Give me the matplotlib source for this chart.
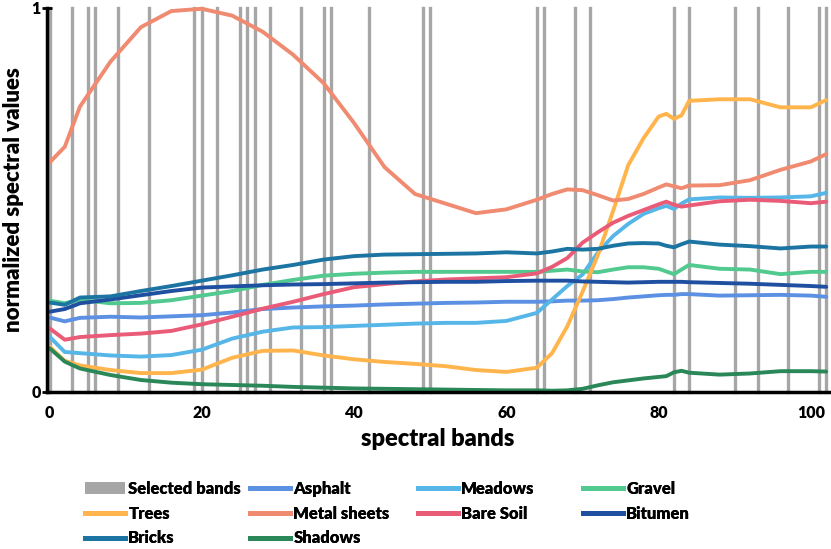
import numpy as np
import matplotlib.pyplot as plt
from matplotlib.patches import Patch
from matplotlib.lines import Line2D

plt.rcParams['font.family'] = ['Lato', 'DejaVu Sans']
plt.rcParams['font.weight'] = 'heavy'

# 1. Data
bands = [0, 2, 4, 8, 12, 16, 20, 24, 28, 32, 36, 40, 44, 48, 52, 56, 60, 64, 66, 68,
         70, 72, 74, 76, 78, 80, 81, 82, 83, 84, 88, 92, 96, 100, 102]

selected_bands = [0, 3, 5, 6, 9, 13, 19, 20, 22, 25, 26, 27, 29, 33, 36, 37, 42, 49, 50,
                  64, 65, 69, 71, 82, 84, 90, 93, 97, 101, 102]

asphalt = [0.193, 0.183, 0.192, 0.195, 0.193, 0.196, 0.199, 0.206, 0.215, 0.219, 0.222, 0.224,
           0.227, 0.229, 0.231, 0.232, 0.234, 0.234, 0.235, 0.237, 0.237, 0.238, 0.241, 0.245,
           0.248, 0.251, 0.252, 0.252, 0.254, 0.254, 0.250, 0.251, 0.252, 0.250, 0.247]
meadows = [0.143, 0.103, 0.100, 0.094, 0.091, 0.095, 0.109, 0.138, 0.156, 0.167, 0.168, 0.171,
           0.174, 0.177, 0.179, 0.179, 0.184, 0.205, 0.240, 0.275, 0.305, 0.362, 0.405, 0.437,
           0.463, 0.478, 0.484, 0.476, 0.490, 0.501, 0.506, 0.505, 0.506, 0.509, 0.518]
gravel = [0.237, 0.230, 0.239, 0.230, 0.231, 0.238, 0.250, 0.262, 0.278, 0.291, 0.302, 0.307,
          0.310, 0.312, 0.312, 0.312, 0.312, 0.312, 0.315, 0.318, 0.313, 0.311, 0.318, 0.324,
          0.324, 0.320, 0.313, 0.306, 0.318, 0.330, 0.320, 0.318, 0.306, 0.312, 0.312]
trees = [0.117, 0.080, 0.068, 0.056, 0.048, 0.048, 0.057, 0.088, 0.106, 0.107, 0.094, 0.084,
         0.077, 0.072, 0.066, 0.056, 0.051, 0.062, 0.100, 0.170, 0.260, 0.355, 0.470, 0.590,
         0.660, 0.717, 0.724, 0.711, 0.720, 0.758, 0.762, 0.762, 0.741, 0.741, 0.760]
metal_sheets = [0.597, 0.638, 0.743, 0.860, 0.950, 0.992, 0.998, 0.980, 0.938, 0.878, 0.804, 0.700,
                0.585, 0.515, 0.490, 0.465, 0.475, 0.500, 0.515, 0.527, 0.525, 0.512, 0.498, 0.502,
                0.515, 0.532, 0.540, 0.535, 0.530, 0.537, 0.538, 0.551, 0.578, 0.600, 0.619]
bare_soil = [0.165, 0.135, 0.142, 0.147, 0.151, 0.158, 0.175, 0.195, 0.216, 0.234, 0.254, 0.272,
             0.280, 0.287, 0.292, 0.295, 0.298, 0.308, 0.325, 0.348, 0.388, 0.415, 0.440, 0.458,
             0.473, 0.488, 0.495, 0.487, 0.482, 0.485, 0.496, 0.500, 0.497, 0.491, 0.495]
bitumen = [0.208, 0.215, 0.230, 0.240, 0.251, 0.262, 0.271, 0.274, 0.277, 0.279, 0.280, 0.282,
           0.284, 0.285, 0.286, 0.286, 0.288, 0.289, 0.289, 0.289, 0.287, 0.286, 0.285, 0.284,
           0.285, 0.286, 0.286, 0.286, 0.286, 0.285, 0.283, 0.281, 0.278, 0.275, 0.273]
bricks = [0.232, 0.226, 0.245, 0.248, 0.262, 0.275, 0.289, 0.303, 0.318, 0.330, 0.344, 0.353,
          0.357, 0.358, 0.359, 0.360, 0.363, 0.360, 0.365, 0.372, 0.370, 0.372, 0.380, 0.386,
          0.387, 0.386, 0.380, 0.376, 0.384, 0.391, 0.383, 0.379, 0.373, 0.378, 0.378]
shadows = [0.113, 0.078, 0.060, 0.043, 0.030, 0.023, 0.019, 0.017, 0.015, 0.012, 0.010, 0.008,
           0.007, 0.006, 0.005, 0.004, 0.003, 0.003, 0.002, 0.003, 0.007, 0.016, 0.024, 0.029,
           0.034, 0.038, 0.040, 0.050, 0.054, 0.049, 0.044, 0.047, 0.053, 0.053, 0.052]

names = ['Asphalt', 'Meadows', 'Gravel', 'Trees', 'Metal sheets',
         'Bare Soil', 'Bitumen', 'Bricks', 'Shadows']
values = [asphalt, meadows, gravel, trees, metal_sheets, bare_soil, bitumen, bricks, shadows]
colors = ['#5b90e2', '#57b6e8', '#52c98f', '#ffb54c', '#f08a70',
          '#ea5b78', '#1f4fa0', '#1c74a3', '#2a8758']

# 2. Make a plot
fig = plt.figure(figsize=(8.31, 5.49), dpi=100)
ax = fig.add_axes([47 / 831, 157.5 / 549, 783 / 831, 383.5 / 549])

for b in selected_bands:
    ax.axvline(b, color='#a6a6a6', linewidth=2.4, zorder=1, clip_on=False)

for name, v, c in zip(names, values, colors):
    ax.plot(bands, v, color=c, linewidth=2.8, label=name, zorder=3,
            solid_capstyle='round', solid_joinstyle='round', clip_on=False)

ax.set_xlim(-0.33, 102.5)
ax.set_ylim(0, 1)
ax.set_xticks([0, 20, 40, 60, 80, 100])
ax.set_yticks([0, 1])
ax.set_yticklabels(['0', '1'])
for s in ['top', 'right']:
    ax.spines[s].set_visible(False)
for s in ['left', 'bottom']:
    ax.spines[s].set_linewidth(2.5)
    ax.spines[s].set_zorder(4)
ax.tick_params(axis='x', length=0, pad=10, labelsize=11.5)
ax.tick_params(axis='y', direction='inout', length=7, width=2, pad=1, labelsize=11.5)

fig.text(438 / 831, 1 - 439 / 549, 'spectral bands', ha='center', va='center',
         fontsize=17, fontweight='heavy')
fig.text(14 / 831, 1 - 200 / 549, 'normalized spectral values', ha='center', va='center',
         rotation=90, fontsize=16, fontweight='heavy')

# legend: four columns at fixed positions
sel_patch = Patch(facecolor='#a6a6a6', edgecolor='none', label='Selected bands')
line_h = {n: Line2D([], [], color=c, linewidth=3.5, label=n) for n, c in zip(names, colors)}
cols = [[sel_patch, line_h['Trees'], line_h['Bricks']],
        [line_h['Asphalt'], line_h['Metal sheets'], line_h['Shadows']],
        [line_h['Meadows'], line_h['Bare Soil']],
        [line_h['Gravel'], line_h['Bitumen']]]
col_x = [85, 250, 418, 583]
for hx, hs in zip(col_x, cols):
    leg = fig.legend(handles=hs, loc='upper left', bbox_to_anchor=(hx / 831, 1 - 481 / 549),
                     frameon=False, fontsize=12, borderpad=0, borderaxespad=0,
                     handlelength=2.4, handletextpad=0.2, labelspacing=0.52)
    fig.add_artist(leg)

# 3. Save
fig.savefig('out.png', dpi=100)
